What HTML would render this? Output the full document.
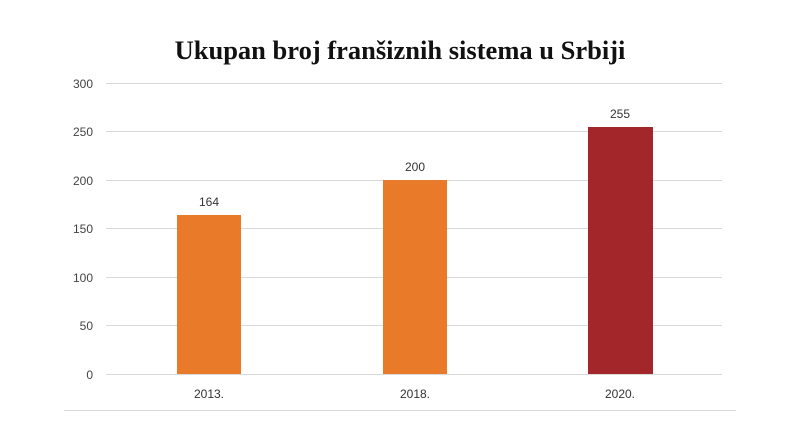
<!DOCTYPE html><html><head><style>body{margin:0;background:#fff}</style></head><body>
<svg width="800" height="439" xmlns="http://www.w3.org/2000/svg" style="display:block">
<rect width="800" height="439" fill="#fff"/>
<text x="400" y="59" text-anchor="middle" font-family="Liberation Serif, serif" font-weight="bold" font-size="26.5" fill="#111">Ukupan broj franšiznih sistema u Srbiji</text>
<g stroke="#d9d9d9" stroke-width="1">
<line x1="106" x2="722" y1="83.5" y2="83.5"/>
<line x1="106" x2="722" y1="131.5" y2="131.5"/>
<line x1="106" x2="722" y1="180.5" y2="180.5"/>
<line x1="106" x2="722" y1="228.5" y2="228.5"/>
<line x1="106" x2="722" y1="277.5" y2="277.5"/>
<line x1="106" x2="722" y1="325.5" y2="325.5"/>
<line x1="106" x2="722" y1="374.5" y2="374.5"/>
<line x1="64" x2="736" y1="410.5" y2="410.5"/>
</g>
<g font-family="Liberation Sans, sans-serif" font-size="12" fill="#444" text-anchor="end">
<text x="93" y="88">300</text><text x="93" y="136">250</text><text x="93" y="185">200</text>
<text x="93" y="233">150</text><text x="93" y="282">100</text><text x="93" y="330">50</text><text x="93" y="379">0</text>
</g>
<rect x="177" y="215" width="64" height="159" fill="#E87A2A"/>
<rect x="383" y="180" width="64" height="194" fill="#E87A2A"/>
<rect x="588" y="127" width="65" height="247" fill="#A3262B"/>
<g font-family="Liberation Sans, sans-serif" font-size="12" fill="#333" text-anchor="middle">
<text x="209" y="206">164</text><text x="415" y="171">200</text><text x="620" y="118">255</text>
<text x="209" y="398">2013.</text><text x="415" y="398">2018.</text><text x="620" y="398">2020.</text>
</g>
</svg></body></html>
